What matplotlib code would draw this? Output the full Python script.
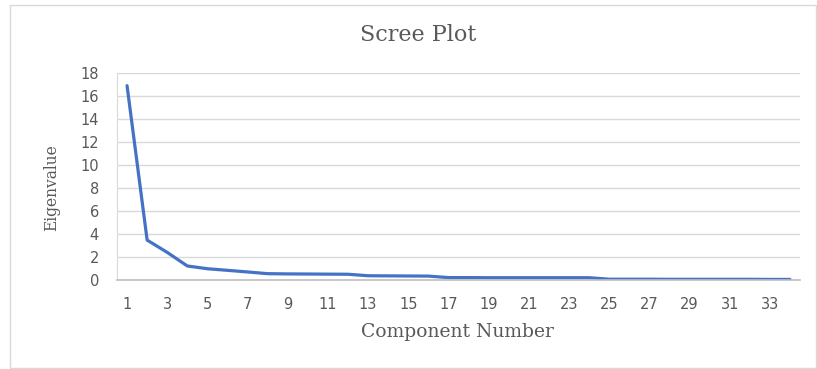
import matplotlib
matplotlib.use("Agg")
import matplotlib.pyplot as plt
from matplotlib.patches import Rectangle

components = list(range(1, 35))
eigenvalues = [16.9, 3.47, 2.4, 1.22, 0.98, 0.84, 0.7, 0.55, 0.53, 0.52, 0.51, 0.5,
               0.37, 0.36, 0.35, 0.34, 0.21, 0.21, 0.2, 0.2, 0.2, 0.2, 0.2, 0.2,
               0.07, 0.07, 0.07, 0.06, 0.06, 0.06, 0.06, 0.06, 0.05, 0.05]
y_ticks = list(range(0, 19, 2))
x_ticks = list(range(1, 35, 2))

W, H = 817, 369
fig = plt.figure(figsize=(W / 100, H / 100), dpi=100)
fig.patches.append(Rectangle((10 / W, 1 / H), (W - 11) / W, (H - 6) / H,
                             transform=fig.transFigure, fill=False,
                             edgecolor="#d9d9d9", linewidth=1.0))

ax = fig.add_axes([117 / W, 1 - 280 / H, (800 - 117) / W, (280 - 73) / H])
ax.plot(components, eigenvalues, color="#4472C4", linewidth=2.3, solid_capstyle="round")
ax.set_xlim(0.5, 34.5)
ax.set_ylim(0, 18)
ax.set_yticks(y_ticks)
ax.set_xticks(x_ticks)
ax.grid(axis="y", color="#d9d9d9", linewidth=1.0)
ax.set_axisbelow(True)
for s in ["top", "right"]:
    ax.spines[s].set_visible(False)
ax.spines["left"].set_color("#d9d9d9")
ax.spines["bottom"].set_color("#bfbfbf")
ax.spines["bottom"].set_linewidth(1.2)
ax.tick_params(axis="both", length=0, labelsize=10.5, labelcolor="#595959")
ax.tick_params(axis="y", pad=13)
ax.tick_params(axis="x", pad=12)

serif = ["DejaVu Serif"]
fig.text(418 / W, 1 - 35 / H, "Scree Plot", ha="center", va="center",
         fontsize=16, color="#595959", family=serif)
fig.text(457 / W, 1 - 332 / H, "Component Number", ha="center", va="center",
         fontsize=13.5, color="#595959", family=serif)
fig.text(52 / W, 1 - 188 / H, "Eigenvalue", ha="center", va="center", rotation=90,
         fontsize=11.2, color="#595959", family=serif)

fig.savefig("out.png", dpi=100)
